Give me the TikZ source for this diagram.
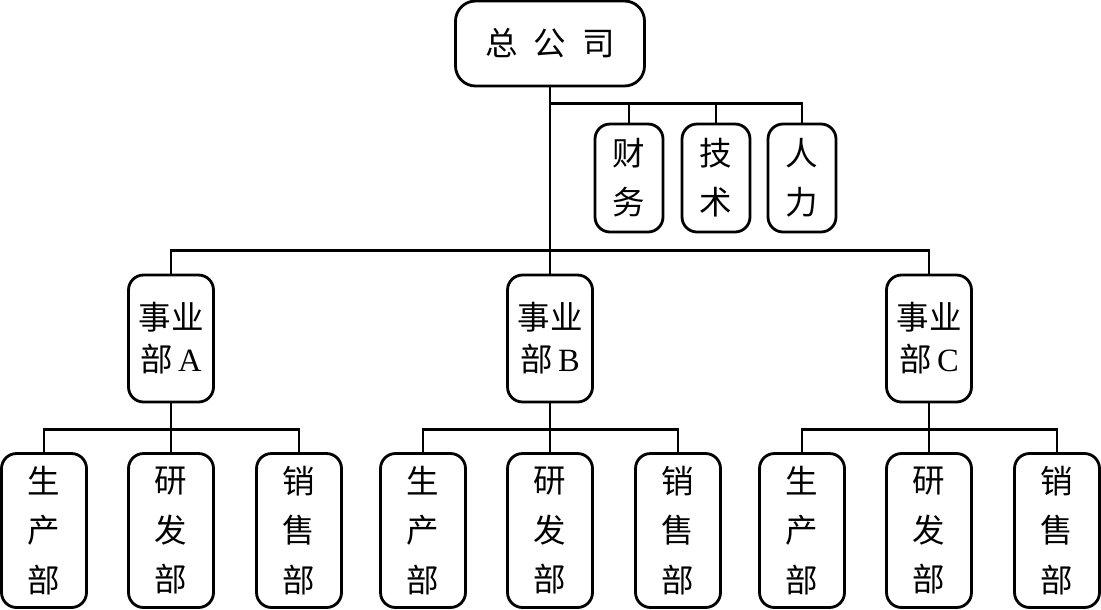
\documentclass[tikz,border=0pt]{standalone}
\usepackage{fontspec}
\setmainfont{Liberation Serif}
\newfontfamily\cjk{Noto Sans CJK SC}
\newfontfamily\latin{Liberation Serif}
\usepackage{tikz}
\usetikzlibrary{calc}

\begin{document}
\begin{tikzpicture}[x=0.02cm, y=-0.02cm,
  box/.style={draw, line width=1.6pt, rounded corners=0.3cm, inner sep=0pt, align=center},
  corp/.style={box, rounded corners=0.4cm, minimum width=3.78cm, minimum height=1.70cm, font=\cjk\fontsize{18.5}{22}\selectfont},
  staff/.style={box, minimum width=1.36cm, minimum height=2.16cm, font=\cjk\fontsize{18.5}{28}\selectfont},
  unit/.style={box, minimum width=1.70cm, minimum height=2.54cm, font=\cjk\fontsize{18.5}{24}\selectfont},
  dept/.style={box, minimum width=1.70cm, minimum height=3.08cm, font=\cjk\fontsize{18.5}{28}\selectfont},
  link/.style={line width=1.6pt}
]
\useasboundingbox (0,0) rectangle (1101,609);

\node[corp] (hq) at (550,43.5) {总\hspace{0.5em}公\hspace{0.5em}司};

\node[staff] (fin)  at (629,178) {财\\务};
\node[staff] (tech) at (716,178) {技\\术};
\node[staff] (hr)   at (802,178) {人\\力};

\node[unit] (uA) at (171,338.5)   {事业\\部\,{\latin A}};
\node[unit] (uB) at (550,338.5)   {事业\\部\,{\latin B}};
\node[unit] (uC) at (929,338.5)   {事业\\部\,{\latin C}};

\foreach \g/\x in {A/171, B/550, C/929} {
  \node[dept] (p\g) at (\x-127,530.5) {生\\产\\部};
  \node[dept] (r\g) at (\x,530.5)     {研\\发\\部};
  \node[dept] (s\g) at (\x+128,530.5) {销\\售\\部};
}

\draw[link] (hq.south) -- (uB.north);
\foreach \n in {fin,tech,hr}
  \draw[link] ($(hq.south)+(0,16)$) -| (\n.north);
\foreach \n in {uA,uC}
  \draw[link] ($(hq.south)+(0,163)$) -| (\n.north);

\foreach \g in {A,B,C} {
  \draw[link] (u\g.south) -- (r\g.north);
  \draw[link] ($(u\g.south)+(0,26)$) -| (p\g.north);
  \draw[link] ($(u\g.south)+(0,26)$) -| (s\g.north);
}
\end{tikzpicture}
\end{document}
